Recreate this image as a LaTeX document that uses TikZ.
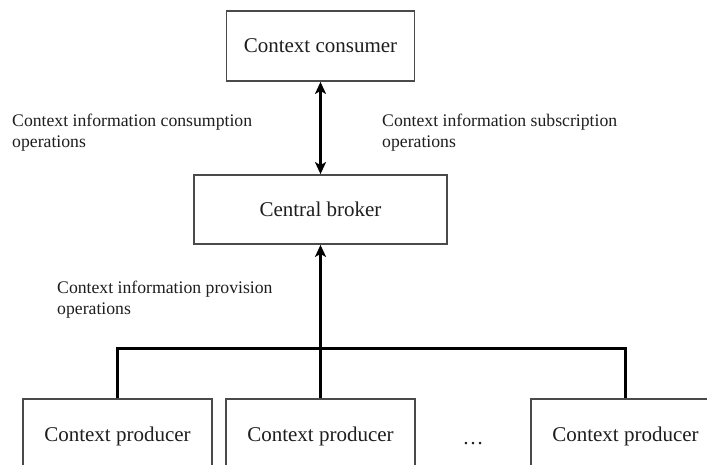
\documentclass[tikz,border=0pt]{standalone}
\usepackage{fontspec}
\setmainfont{Liberation Serif}
\usetikzlibrary{arrows.meta}
\definecolor{inkc}{HTML}{1E1E1E}
\definecolor{edgec}{HTML}{4A4A4A}
\tikzset{
  unitbox/.style={draw=edgec, line width=1.8pt, fill=white, text=inkc,
    inner sep=0pt, font=\fontsize{21}{25}\selectfont},
  oplabel/.style={anchor=base west, align=left, inner sep=0pt, text=inkc,
    font=\fontsize{17.7}{21}\selectfont},
  conn/.style={draw=black, line width=3pt},
  tip/.style={-{Stealth[length=12pt,width=11pt,inset=3pt]}},
  tips/.style={{Stealth[length=12pt,width=11pt,inset=3pt]}-{Stealth[length=12pt,width=11pt,inset=3pt]}}
}
\begin{document}
\begin{tikzpicture}[x=1pt,y=-1pt]
  \clip (0,0) rectangle (707,464);
  \fill[white] (0,0) rectangle (707,464);

  % boxes
  \node[unitbox, minimum width=188pt, minimum height=70pt] (consumer) at (320.5,46) {Context consumer};
  \node[unitbox, minimum width=253pt, minimum height=69pt] (broker) at (320.5,209.5) {Central broker};
  \node[unitbox, minimum width=189pt, minimum height=74pt] (prodA) at (117.5,436) {Context producer};
  \node[unitbox, minimum width=189pt, minimum height=74pt] (prodB) at (320.5,436) {Context producer};
  \node[unitbox, minimum width=189pt, minimum height=74pt] (prodC) at (625.5,436) {Context producer};
  \node[text=inkc, inner sep=0pt, anchor=base, font=\fontsize{21}{25}\selectfont] (dots) at (473,444) {\ldots};

  % operation labels (anchored at the baseline of their last line)
  \node[oplabel] (consume) at (12,147) {Context information consumption\\operations};
  \node[oplabel] (subscribe) at (382,147) {Context information subscription\\operations};
  \node[oplabel] (provide) at (57,314) {Context information provision\\operations};

  % connectors
  \coordinate (hub) at (320.5,348);
  \draw[conn, tips] (consumer.south) -- (broker.north);
  \draw[conn] (prodA.north) |- (hub) -| (prodC.north);
  \draw[conn, tip] (prodB.north) -- (broker.south);
\end{tikzpicture}
\end{document}
